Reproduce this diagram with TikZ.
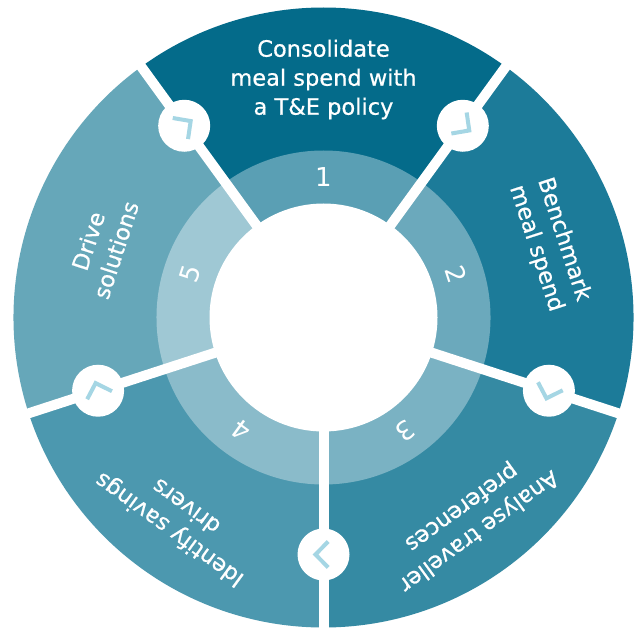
\documentclass[tikz,border=0pt]{standalone}
\usepackage{fontspec}
\setmainfont{DejaVu Sans}
\newfontfamily\labfont{DejaVu Sans}[FakeBold=0.6]
\usetikzlibrary{calc}
\definecolor{segA}{HTML}{046B8A}
\definecolor{segB}{HTML}{1C7B99}
\definecolor{segC}{HTML}{358AA3}
\definecolor{segD}{HTML}{4C98AF}
\definecolor{segE}{HTML}{66A7B9}
\definecolor{inA}{HTML}{5A9FB4}
\definecolor{inB}{HTML}{6BA9BC}
\definecolor{inC}{HTML}{7AB2C3}
\definecolor{inD}{HTML}{8ABBCA}
\definecolor{inE}{HTML}{9FC8D4}
\definecolor{chevcol}{HTML}{A5D6E4}
\tikzset{
  gapline/.style={white, line width=10pt},
  chevcirc/.style={circle, fill=white, minimum size=52pt, inner sep=0pt},
  chev/.style={chevcol, line width=4pt},
  lab/.style={text=white, align=center, font=\labfont\fontsize{22.5}{29}\selectfont},
  num/.style={text=white, font=\fontsize{26}{28}\selectfont},
}
\begin{document}
\begin{tikzpicture}[x=1pt,y=1pt]
\useasboundingbox (0,0) rectangle (634,630);
\fill[white] (0,0) rectangle (634,630);
\coordinate (C) at (323.5,312.5);
\def\rOut{310}
\def\rMid{167}
\def\rIn{114}
\foreach \a/\b/\c/\d in {54/126/segA/inA, -18/54/segB/inB, -90/-18/segC/inC, -162/-90/segD/inD, 126/198/segE/inE} {
  \fill[\c] (C) -- ++(\a:\rOut) arc[start angle=\a, end angle=\b, radius=\rOut] -- cycle;
  \fill[\d] (C) -- ++(\a:\rMid) arc[start angle=\a, end angle=\b, radius=\rMid] -- cycle;
}
\fill[white] (C) circle[radius=\rIn];
\foreach \t in {54,126,198,270,342} {
  \draw[gapline] ($(C)+(\t:100)$) -- ($(C)+(\t:330)$);
}
\foreach \t/\n in {54/k1,126/k5,198/k4,270/k3,342/k2} {
  \node[chevcirc] (\n) at ($(C)+(\t:237)$) {};
  \begin{scope}[shift={(\n.center)}, rotate=\t-90]
    \draw[chev] (-4.7,13) -- (8,0) -- (-4.7,-13);
  \end{scope}
}
\node[lab] (t1) at ($(C)+(90:238)$) {Consolidate\\meal spend with\\a T\&E policy};
\node[lab, rotate=-72] (t2) at ($(C)+(18:238)$) {Benchmark\\meal spend};
\node[lab, rotate=216] (t3) at ($(C)+(-54:249)$) {Analyse traveller\\preferences};
\node[lab, rotate=144] (t4) at ($(C)+(-126:249)$) {Identify savings\\drivers};
\node[lab, rotate=72] (t5) at ($(C)+(162:233)$) {Drive\\solutions};
\node[num] (n1) at ($(C)+(90:140)$) {1};
\node[num, rotate=-72] (n2) at ($(C)+(18:140)$) {2};
\node[num, rotate=216] (n3) at ($(C)+(-54:140)$) {3};
\node[num, rotate=144] (n4) at ($(C)+(-126:140)$) {4};
\node[num, rotate=72] (n5) at ($(C)+(162:140)$) {5};
\end{tikzpicture}
\end{document}
